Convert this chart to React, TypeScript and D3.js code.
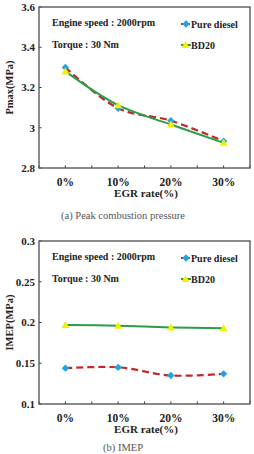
import React from "react";
import * as d3 from "d3";

// EGR sweep categories
const egrRates = ["0%", "10%", "20%", "30%"];

// Peak combustion pressure (MPa)
const pmaxDiesel = [3.3, 3.097, 3.035, 2.933];
const pmaxBD20 = [3.28, 3.112, 3.016, 2.925];
const pmaxTicks = [2.8, 3, 3.2, 3.4, 3.6];

// IMEP (MPa)
const imepDiesel = [0.144, 0.145, 0.135, 0.137];
const imepBD20 = [0.197, 0.196, 0.194, 0.193];
const imepTicks = [0.1, 0.15, 0.2, 0.25, 0.3];

const FONT = "'Liberation Serif', 'Times New Roman', serif";
const DIESEL_LINE = "#c0282c";
const DIESEL_MARK = "#21a3e8";
const BD20_LINE = "#2a9d48";
const BD20_MARK = "#f4f000";

type PanelProps = {
  top: number;
  bottom: number;
  domain: [number, number];
  ticks: number[];
  fmt: (v: number) => string;
  diesel: number[];
  bd20: number[];
  yTitle: string;
  caption: string;
  captionY: number;
};

const left = 39;
const right = 250;

const Panel = ({ top, bottom, domain, ticks, fmt, diesel, bd20, yTitle, caption, captionY }: PanelProps) => {
  const x = d3.scaleBand<string>().domain(egrRates).range([left, right]).padding(0);
  const y = d3.scaleLinear().domain(domain).range([bottom, top]);
  const cx = (c: string) => (x(c) ?? 0) + x.bandwidth() / 2;

  const line = d3
    .line<number>()
    .x((_, i) => cx(egrRates[i]))
    .y((d) => y(d))
    .curve(d3.curveCatmullRom.alpha(0.5));

  // minor ticks at band edges and centres
  const xTickPos: number[] = [];
  egrRates.forEach((c) => {
    xTickPos.push(x(c) ?? 0, cx(c));
  });
  xTickPos.push(right);

  const diamond = (px: number, py: number, key: string | number) => (
    <path
      key={key}
      d={`M${px},${py - 3.7}L${px + 3.7},${py}L${px},${py + 3.7}L${px - 3.7},${py}Z`}
      fill={DIESEL_MARK}
    />
  );
  const triangle = (px: number, py: number, key: string | number) => (
    <path
      key={key}
      d={`M${px},${py - 4}L${px + 4},${py + 3}L${px - 4},${py + 3}Z`}
      fill={BD20_MARK}
    />
  );

  const midY = (top + bottom) / 2;

  return (
    <g fontFamily={FONT}>
      {/* y ticks and labels */}
      {ticks.map((t) => (
        <g key={t}>
          <line x1={left} x2={left + 2.5} y1={y(t)} y2={y(t)} stroke="#333" strokeWidth={1} />
          <text
            x={left - 4}
            y={y(t)}
            dy="0.35em"
            textAnchor="end"
            fontSize={11}
            fontWeight="bold"
            fill="#222"
          >
            {fmt(t)}
          </text>
        </g>
      ))}
      {xTickPos.map((p, i) => (
        <line key={i} x1={p} x2={p} y1={bottom} y2={bottom - 2.5} stroke="#333" strokeWidth={1} />
      ))}
      {egrRates.map((c) => (
        <text
          key={c}
          x={cx(c)}
          y={bottom + 18}
          textAnchor="middle"
          fontSize={11.5}
          fontWeight="bold"
          fill="#222"
        >
          {c}
        </text>
      ))}
      <text x={146} y={bottom + 28.5} textAnchor="middle" fontSize={11} fontWeight="bold" fill="#222">
        EGR rate(%)
      </text>
      <text
        transform={`translate(${13},${midY}) rotate(-90)`}
        textAnchor="middle"
        fontSize={10.5}
        fontWeight="bold"
        fill="#222"
      >
        {yTitle}
      </text>

      {/* frame */}
      <rect
        x={left}
        y={top}
        width={right - left}
        height={bottom - top}
        fill="none"
        stroke="#5a5a5a"
        strokeWidth={1.4}
      />

      {/* annotations */}
      <text x={52} y={top + 18.5} fontSize={10} fontWeight="bold" fill="#222">
        Engine speed : 2000rpm
      </text>
      <text x={52} y={top + 40.5} fontSize={10} fontWeight="bold" fill="#222">
        Torque : 30 Nm
      </text>

      {/* legend */}
      <line x1={181} x2={190} y1={top + 17} y2={top + 17} stroke={DIESEL_LINE} strokeWidth={2} strokeDasharray="4,3" />
      {diamond(186, top + 17, "ld")}
      <text x={191} y={top + 20.5} fontSize={10} fontWeight="bold" fill="#222">
        Pure diesel
      </text>
      <line x1={181} x2={191} y1={top + 38} y2={top + 38} stroke={BD20_LINE} strokeWidth={2} />
      {triangle(185.5, top + 38, "lb")}
      <text x={191} y={top + 41.5} fontSize={10} fontWeight="bold" fill="#222">
        BD20
      </text>

      {/* series */}
      <path d={line(diesel) ?? ""} fill="none" stroke={DIESEL_LINE} strokeWidth={2.2} strokeDasharray="7,4" />
      {diesel.map((v, i) => diamond(cx(egrRates[i]), y(v), `d${i}`))}
      <path d={line(bd20) ?? ""} fill="none" stroke={BD20_LINE} strokeWidth={2} />
      {bd20.map((v, i) => triangle(cx(egrRates[i]), y(v), `b${i}`))}

      <text
        x={123}
        y={captionY}
        textAnchor="middle"
        fontSize={10.5}
        fill="#555"
      >
        {caption}
      </text>
    </g>
  );
};

export default function App() {
  return (
    <svg
      width={254}
      height={454}
      style={{ position: "fixed", left: 0, top: 0, background: "#fff" }}
    >
      <rect width={254} height={454} fill="#fff" />
      <Panel
        top={7}
        bottom={168}
        domain={[2.8, 3.6]}
        ticks={pmaxTicks}
        fmt={(v) => String(+v.toFixed(1))}
        diesel={pmaxDiesel}
        bd20={pmaxBD20}
        yTitle="Pmax(MPa)"
        caption="(a) Peak combustion pressure"
        captionY={219}
      />
      <Panel
        top={241}
        bottom={404}
        domain={[0.1, 0.3]}
        ticks={imepTicks}
        fmt={(v) => String(+v.toFixed(2))}
        diesel={imepDiesel}
        bd20={imepBD20}
        yTitle="IMEP(MPa)"
        caption="(b) IMEP"
        captionY={451}
      />
    </svg>
  );
}
